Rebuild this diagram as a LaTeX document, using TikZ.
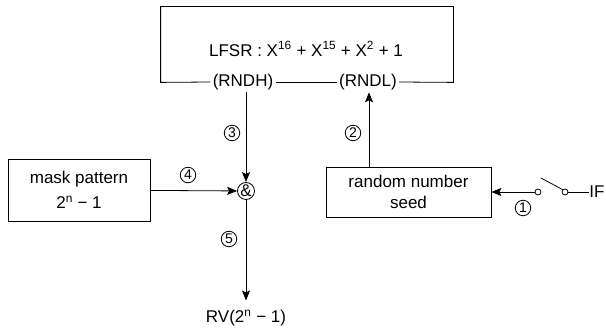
\documentclass[tikz,border=0pt]{standalone}
\usepackage{fontspec}
\setmainfont{Liberation Sans}
\usetikzlibrary{arrows.meta}

\begin{document}
\begin{tikzpicture}[x=1pt, y=-1pt, line width=0.8pt,
    font=\fontsize{17}{20}\selectfont,
    box/.style={draw, align=center, inner sep=0pt},
    num/.style={circle, draw, inner sep=0pt, minimum size=15.5pt,
        font=\fontsize{14}{14}\selectfont},
    arr/.style={-{Stealth[length=10pt, width=8pt, inset=2pt]}},
    contact/.style={circle, draw, fill=white, inner sep=0pt, minimum size=6pt}]
    \useasboundingbox (0,0) rectangle (606,331);

    % --- LFSR block (bottom edge broken by the two outputs) ---
    \node[minimum width=292pt, minimum height=75pt, inner sep=0pt] (lfsr) at (307,44.5) {};
    \node (title) at (306,49)
        {LFSR : X\textsuperscript{16} + X\textsuperscript{15} + X\textsuperscript{2} + 1};
    \node[inner sep=2pt] (rndh) at (243,82) {(RNDH)};
    \node[inner sep=2pt] (rndl) at (368,82) {(RNDL)};
    \draw (rndh.west) -- (lfsr.south west) -- (lfsr.north west)
        -- (lfsr.north east) -- (lfsr.south east) -- (rndl.east);
    \draw (rndh.east) -- (rndl.west);

    % --- Mask and AND gate ---
    \node[box, minimum width=142pt, minimum height=62pt,
        font=\fontsize{17}{25}\selectfont] (mask) at (79,190)
        {mask pattern\\2\textsuperscript{n} − 1};
    \node[circle, draw, inner sep=0pt, minimum size=17pt] (and) at (246,191) {\&};

    % --- Seed block and switch ---
    \node[box, minimum width=165pt, minimum height=50pt,
        font=\fontsize{17}{20.5}\selectfont] (seed) at (408.5,192)
        {random number\\seed};
    \node[contact] (swl) at (538,192) {};
    \node[contact] (swr) at (565,192) {};
    \coordinate (blade) at (541,178);
    \node[anchor=west, inner sep=0pt] (if) at (589,192) {IF};

    % --- Output ---
    \node[inner sep=0pt] (rv) at (246,318) {RV(2\textsuperscript{n} − 1)};

    % --- Connectors ---
    \draw[arr] (rndh.south -| and) -- (and);
    \draw[arr] (seed.north -| rndl.south) ++(1,0) coordinate (up) -- (up |- rndl.south);
    \draw[arr] (mask) -- (and);
    \draw[arr] (and) -- ([yshift=9pt]rv.north);
    \draw[arr] (swl) -- (seed);
    \draw (blade) -- (swr.north west);
    \draw (swr) -- (if);

    % --- Step numbers ---
    \node[num] (n1) at (523,208) {1};
    \node[num] (n2) at (353,133) {2};
    \node[num] (n3) at (232,133) {3};
    \node[num] (n4) at (188,175) {4};
    \node[num] (n5) at (229,239) {5};
\end{tikzpicture}
\end{document}
